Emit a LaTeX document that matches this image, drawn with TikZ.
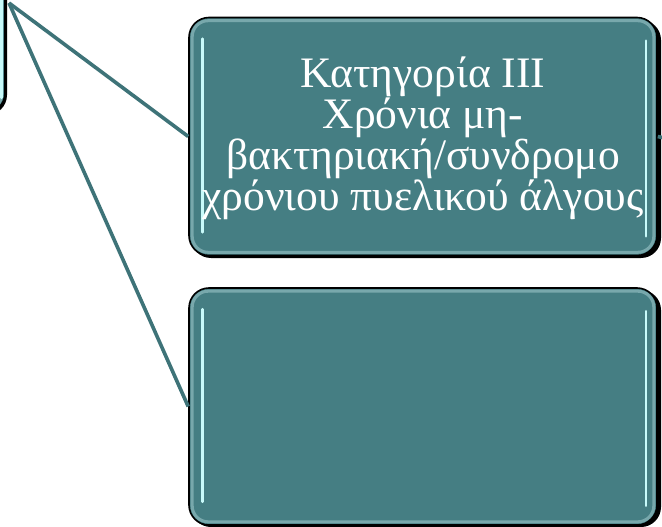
\documentclass[tikz,border=0pt]{standalone}
\usepackage{fontspec}
\setmainfont{Liberation Serif}
\begin{document}
\begin{tikzpicture}[x=1pt,y=1pt,
  tealbox/.style={rectangle, rounded corners=20pt, draw=black, line width=1.6pt,
    fill={rgb,255:red,69;green,126;blue,131}, inner sep=0pt,
    text=white, font=\fontsize{43.5}{41}\selectfont, align=center},
  rim/.style={draw={rgb,255:red,120;green,168;blue,172}, line width=3pt, rounded corners=16pt},
  shade/.style={fill=black, rounded corners=20pt},
  glint/.style={draw={rgb,255:red,200;green,250;blue,250}, line width=2.6pt, line cap=round},
  conn/.style={draw={rgb,255:red,62;green,115;blue,120}, line width=3.6pt}
]
\useasboundingbox (0,0) rectangle (662,-527);
\fill[white] (0,0) rectangle (662,-527);
\clip (0,0) rectangle (662,-527);
% left partial box
\fill[shade] (-298,140) rectangle (7,-115);
\node[tealbox, minimum width=300pt, minimum height=250pt] (root) at (-145,12) {};
\draw[rim] ([shift={(-4,-4)}]root.north east) rectangle ([shift={(4,4)}]root.south west);
\draw[glint] ([shift={(-4,-20)}]root.north east) -- ([shift={(-4,16)}]root.south east);
\coordinate (hub) at (9,-3);
\coordinate (rstub) at (664,-138);
% boxes
\fill[shade] (191,-20) rectangle (661,-258);
\node[tealbox, minimum width=468pt, minimum height=238pt] (box1) at (423,-136.5) {};
\fill[shade] (191,-290) rectangle (661,-527);
\node[tealbox, minimum width=468pt, minimum height=237pt] (box2) at (423,-406.5) {};
\draw[conn] (hub) -- (box1.west);
\draw[conn] (hub) -- (box2.west);
\draw[conn] (box1.east) -- (rstub);
\foreach \b in {box1,box2}{
  \draw[rim] ([shift={(4,-4)}]\b.north west) rectangle ([shift={(-4,4)}]\b.south east);
  \draw[glint] ([shift={(14,-22)}]\b.north west) -- ([shift={(14,24)}]\b.south west);
  \draw[glint] ([shift={(-12,-24)}]\b.north east) -- ([shift={(-12,20)}]\b.south east);
}
\node[text=white, font=\fontsize{43.5}{41}\selectfont, align=center, inner sep=0pt]
  (label1) at ([yshift=-2pt]box1.center)
  {Κατηγορία ΙΙΙ\\Χρόνια μη-\\βακτηριακή/συνδρομο\\χρόνιου πυελικού άλγους};
\end{tikzpicture}
\end{document}
